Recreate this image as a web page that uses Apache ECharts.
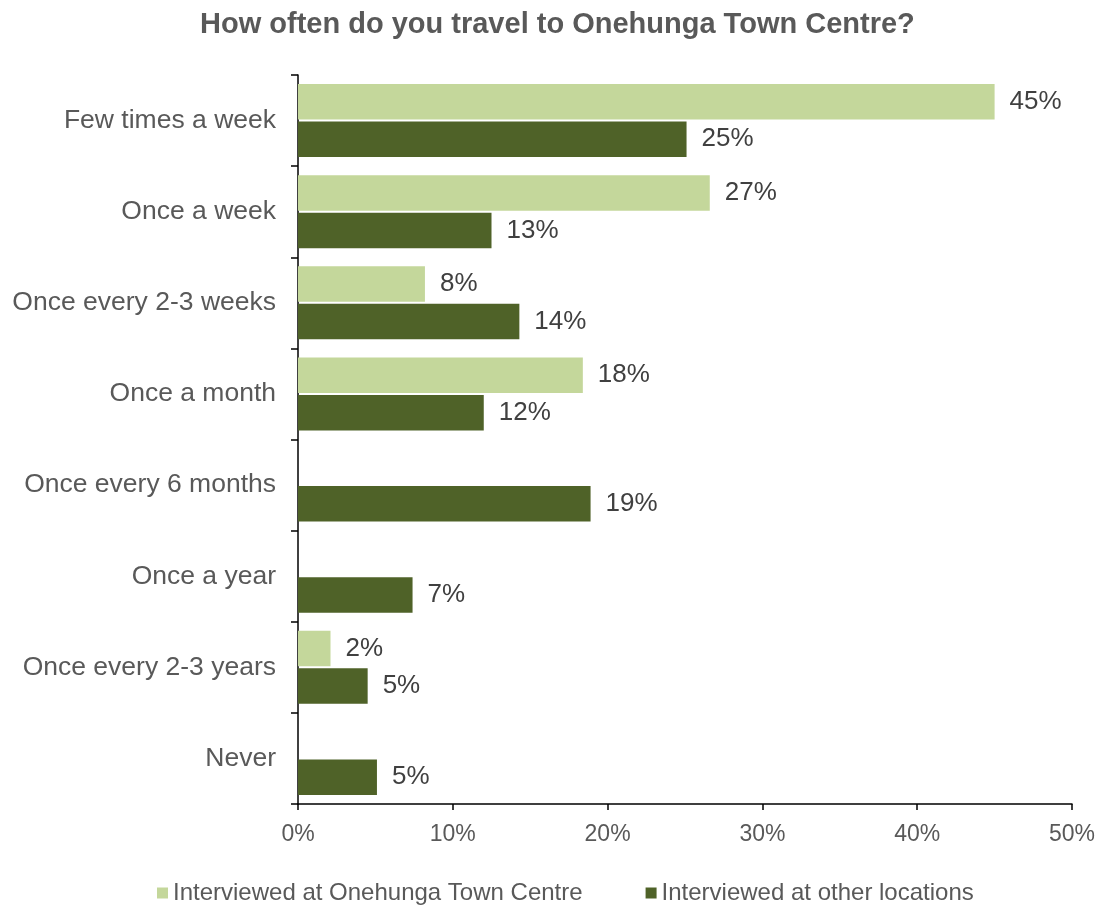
<!DOCTYPE html>
<html>
<head>
<meta charset="utf-8">
<style>
  html, body { margin: 0; padding: 0; background: #ffffff; }
  #chart { width: 1099px; height: 905px; }
</style>
<script src="https://cdn.jsdelivr.net/npm/echarts@6/dist/echarts.min.js"></script>
</head>
<body>
<div id="chart"></div>
<script>
// Survey: frequency of travel to Onehunga Town Centre (% of respondents)
const categories = [
  'Few times a week',
  'Once a week',
  'Once every 2-3 weeks',
  'Once a month',
  'Once every 6 months',
  'Once a year',
  'Once every 2-3 years',
  'Never'
];
const seriesNames = ['Interviewed at Onehunga Town Centre', 'Interviewed at other locations'];
const townCentre = [45.0, 26.6, 8.2, 18.4, null, null, 2.1, null];
const otherLocations = [25.1, 12.5, 14.3, 12.0, 18.9, 7.4, 4.5, 5.1];
const xTicks = [0, 10, 20, 30, 40, 50];

const textColor = '#595959';
const valueColor = '#404040';
const fontFamily = 'Arial, "Liberation Sans", sans-serif';

const chart = echarts.init(document.getElementById('chart'));

const labelStyle = {
  show: true,
  position: 'right',
  distance: 15,
  color: valueColor,
  fontFamily: fontFamily,
  fontSize: 26,
  formatter: p => (p.value == null ? '' : Math.round(p.value) + '%')
};

chart.setOption({
  animation: false,
  title: {
    text: 'How often do you travel to Onehunga Town Centre?',
    left: 195,
    top: 5,
    textStyle: { color: textColor, fontFamily: fontFamily, fontSize: 29, fontWeight: 'bold' }
  },
  legend: {
    top: 876,
    left: 152,
    itemWidth: 11,
    itemHeight: 11,
    itemGap: 63,
    icon: 'rect',
    textStyle: { color: textColor, fontFamily: fontFamily, fontSize: 24 },
    data: seriesNames
  },
  grid: { left: 298, right: 27, top: 75, bottom: 101, containLabel: false },
  xAxis: {
    type: 'value',
    min: xTicks[0],
    max: xTicks[xTicks.length - 1],
    interval: 10,
    splitLine: { show: false },
    axisLine: { show: true, lineStyle: { color: '#000000', width: 1.5 } },
    axisTick: { show: true, length: 6, lineStyle: { color: '#000000', width: 1.5 } },
    axisLabel: {
      color: textColor, fontFamily: fontFamily, fontSize: 23, margin: 19,
      formatter: v => v + '%'
    }
  },
  yAxis: {
    type: 'category',
    inverse: true,
    data: categories,
    axisLine: { show: true, lineStyle: { color: '#000000', width: 1.5 } },
    axisTick: { show: true, length: 7, lineStyle: { color: '#000000', width: 1.5 } },
    axisLabel: { color: textColor, fontFamily: fontFamily, fontSize: 26.5, margin: 22 }
  },
  series: [
    {
      name: seriesNames[0],
      type: 'bar',
      data: townCentre,
      itemStyle: { color: '#C4D79B' },
      barGap: '6%',
      barCategoryGap: '20%',
      label: labelStyle
    },
    {
      name: seriesNames[1],
      type: 'bar',
      data: otherLocations,
      itemStyle: { color: '#4F6228' },
      barGap: '6%',
      barCategoryGap: '20%',
      label: labelStyle
    }
  ]
});
</script>
</body>
</html>
